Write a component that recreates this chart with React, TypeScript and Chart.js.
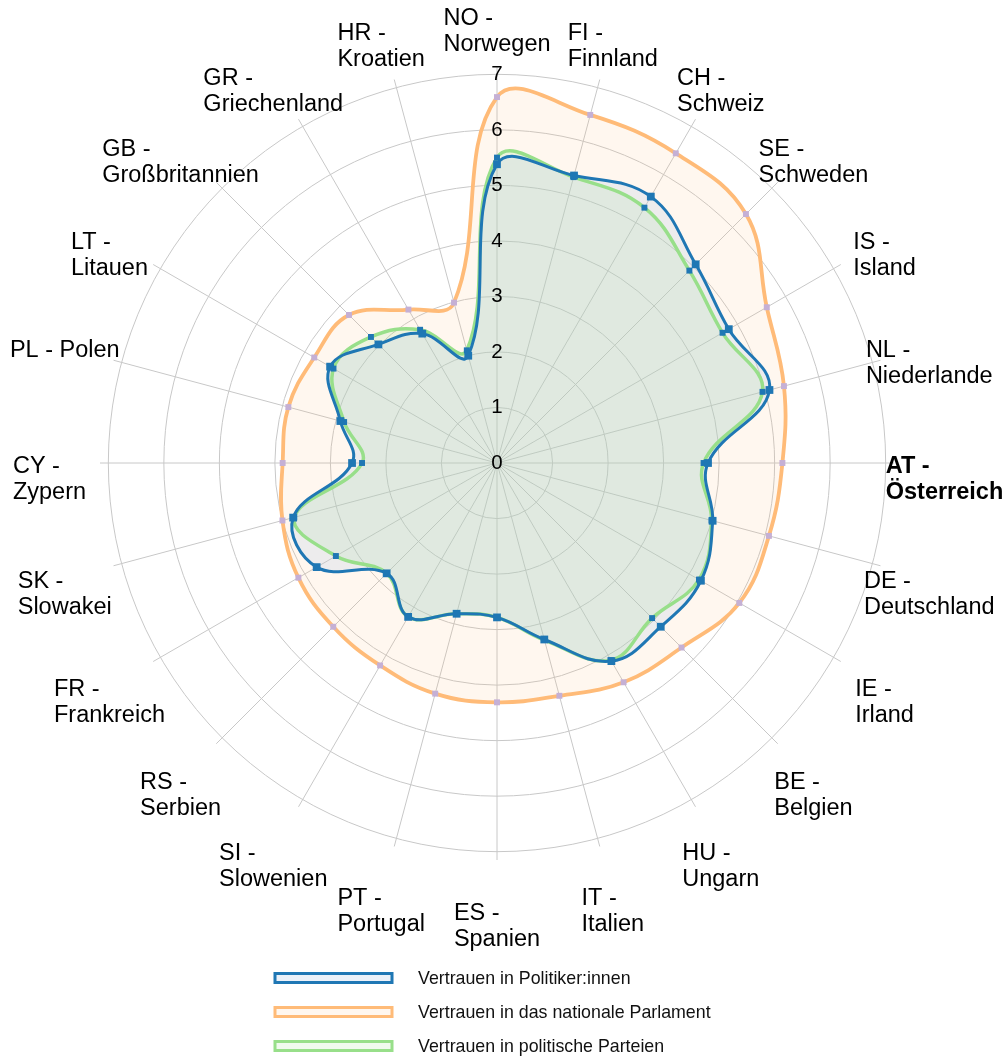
import React, { useEffect, useRef } from 'react';
import { Chart, registerables } from 'chart.js';

Chart.register(...registerables);

const categories: string[][] = [
  ['NO -', 'Norwegen'],
  ['FI -', 'Finnland'],
  ['CH -', 'Schweiz'],
  ['SE -', 'Schweden'],
  ['IS -', 'Island'],
  ['NL -', 'Niederlande'],
  ['AT -', 'Österreich'],
  ['DE -', 'Deutschland'],
  ['IE -', 'Irland'],
  ['BE -', 'Belgien'],
  ['HU -', 'Ungarn'],
  ['IT -', 'Italien'],
  ['ES -', 'Spanien'],
  ['PT -', 'Portugal'],
  ['SI -', 'Slowenien'],
  ['RS -', 'Serbien'],
  ['FR -', 'Frankreich'],
  ['SK -', 'Slowakei'],
  ['CY -', 'Zypern'],
  ['PL - Polen'],
  ['LT -', 'Litauen'],
  ['GB -', 'Großbritannien'],
  ['GR -', 'Griechenland'],
  ['HR -', 'Kroatien'],
];

const highlightedCategory = 'AT -';

const seriesNames = [
  'Vertrauen in Politiker:innen',
  'Vertrauen in das nationale Parlament',
  'Vertrauen in politische Parteien',
];

const politiker = [
  5.38, 5.36, 5.54, 5.06, 4.82, 5.08, 3.8, 4.02, 4.24, 4.17, 4.12, 3.29,
  2.78, 2.81, 3.2, 2.81, 3.75, 3.8, 2.61, 2.92, 3.47, 3.02, 2.69, 2.0,
];

const parlament = [
  6.59, 6.49, 6.44, 6.34, 5.61, 5.35, 5.14, 5.07, 5.04, 4.7, 4.56, 4.34,
  4.31, 4.3, 4.21, 4.17, 4.13, 4.0, 3.86, 3.89, 3.8, 3.77, 3.19, 2.99,
];

const parteien = [
  5.5, 5.33, 5.31, 4.9, 4.69, 4.95, 3.72, 4.0, 4.2, 3.95, 4.1, 3.3,
  2.78, 2.81, 3.2, 2.81, 3.35, 3.78, 2.43, 2.85, 3.4, 3.21, 2.77, 2.1,
];

const tickValues = [0, 1, 2, 3, 4, 5, 6, 7];

const FONT = '"Liberation Sans", Arial, Helvetica, sans-serif';
const LABEL_SIZE = 23.5;
const LABEL_LINE = 26;
const LABEL_OFFSET = 50.5;
const LABEL_BASE_SHIFT = 9.5;

const legendStyle = [
  { stroke: '#1f77b4', fill: 'rgba(174,199,232,0.25)' },
  { stroke: '#ffbb78', fill: 'rgba(255,187,120,0.12)' },
  { stroke: '#98df8a', fill: 'rgba(152,223,138,0.15)' },
];

const pointLabelPlugin = {
  id: 'leftAlignedPointLabels',
  afterDraw(chart: any) {
    const scale = chart.scales.r;
    const ctx = chart.ctx as CanvasRenderingContext2D;
    ctx.save();
    ctx.fillStyle = '#000';
    ctx.textAlign = 'left';
    ctx.textBaseline = 'alphabetic';
    categories.forEach((lines, i) => {
      const bold = lines[0] === highlightedCategory;
      ctx.font = `${bold ? 'bold ' : ''}${LABEL_SIZE}px ${FONT}`;
      const pos = scale.getPointPosition(i, scale.drawingArea + LABEL_OFFSET);
      const w = Math.max(...lines.map((l) => ctx.measureText(l).width));
      const left = pos.x - w / 2;
      lines.forEach((l, k) => {
        ctx.fillText(l, left, pos.y + LABEL_BASE_SHIFT + k * LABEL_LINE);
      });
    });
    ctx.restore();
  },
};

const legendPlugin = {
  id: 'stackedLegend',
  afterDraw(chart: any) {
    const ctx = chart.ctx as CanvasRenderingContext2D;
    const boxLeft = 275;
    const boxW = 117;
    const boxH = 9;
    const textLeft = 418;
    const rowTop = 978;
    const rowGap = 34;
    ctx.save();
    ctx.font = `17.8px ${FONT}`;
    ctx.textBaseline = 'middle';
    ctx.textAlign = 'left';
    chart.data.datasets.forEach((ds: any, i: number) => {
      const cy = rowTop + i * rowGap;
      const st = legendStyle[i];
      ctx.fillStyle = st.fill;
      ctx.fillRect(boxLeft, cy - boxH / 2, boxW, boxH);
      ctx.lineWidth = 3;
      ctx.strokeStyle = st.stroke;
      ctx.strokeRect(boxLeft, cy - boxH / 2, boxW, boxH);
      ctx.fillStyle = '#111';
      ctx.fillText(ds.label, textLeft, cy + 1);
    });
    ctx.restore();
  },
};

export default function App() {
  const ref = useRef<HTMLCanvasElement>(null);

  useEffect(() => {
    if (!ref.current) return;
    Chart.defaults.font.family = FONT;
    const chart = new Chart(ref.current, {
      type: 'radar',
      data: {
        labels: categories,
        datasets: [
          {
            label: seriesNames[0],
            data: politiker,
            borderColor: '#1f77b4',
            backgroundColor: 'rgba(174,199,232,0.22)',
            fill: true,
            borderWidth: 3,
            tension: 0.4,
            pointStyle: 'rect',
            pointRadius: 5.5,
            pointBackgroundColor: '#1f77b4',
            pointBorderWidth: 0,
            order: 1,
          },
          {
            label: seriesNames[1],
            data: parlament,
            borderColor: '#ffbb78',
            backgroundColor: 'rgba(255,187,120,0.12)',
            fill: true,
            borderWidth: 3.8,
            tension: 0.4,
            pointStyle: 'rect',
            pointRadius: 4.2,
            pointBackgroundColor: '#c5b0d5',
            pointBorderWidth: 0,
            order: 3,
          },
          {
            label: seriesNames[2],
            data: parteien,
            borderColor: '#98df8a',
            backgroundColor: 'rgba(152,223,138,0.16)',
            fill: true,
            borderWidth: 3.5,
            tension: 0.4,
            pointStyle: 'rect',
            pointRadius: 4.2,
            pointBackgroundColor: '#1f77b4',
            pointBorderWidth: 0,
            order: 2,
          },
        ],
      },
      options: {
        responsive: true,
        maintainAspectRatio: false,
        animation: false,
        layout: { padding: { left: 88, right: 101, top: 54, bottom: 183 } },
        plugins: {
          legend: { display: false },
          tooltip: { enabled: false },
          filler: { drawTime: 'beforeDatasetsDraw' },
        },
        scales: {
          r: {
            min: -0.001,
            max: 7.15,
            startAngle: 0,
            afterBuildTicks: (scale: any) => {
              scale.ticks = tickValues.map((v) => ({ value: v }));
            },
            ticks: {
              stepSize: 1,
              showLabelBackdrop: false,
              color: '#000',
              z: 1,
              font: { size: 20.5, family: FONT },
              callback: (v: any) => String(v),
            },
            grid: {
              circular: true,
              color: (c: any) => (c.index === 0 ? 'rgba(0,0,0,0)' : '#c8c8c8'),
              lineWidth: 1,
            },
            angleLines: { color: '#c8c8c8', lineWidth: 1 },
            pointLabels: { display: false },
          },
        },
      } as any,
      plugins: [pointLabelPlugin, legendPlugin],
    });
    return () => chart.destroy();
  }, []);

  return (
    <div style={{ position: 'absolute', left: 0, top: 0, width: 1008, height: 1056, overflow: 'hidden' }}>
      <canvas ref={ref} />
    </div>
  );
}
